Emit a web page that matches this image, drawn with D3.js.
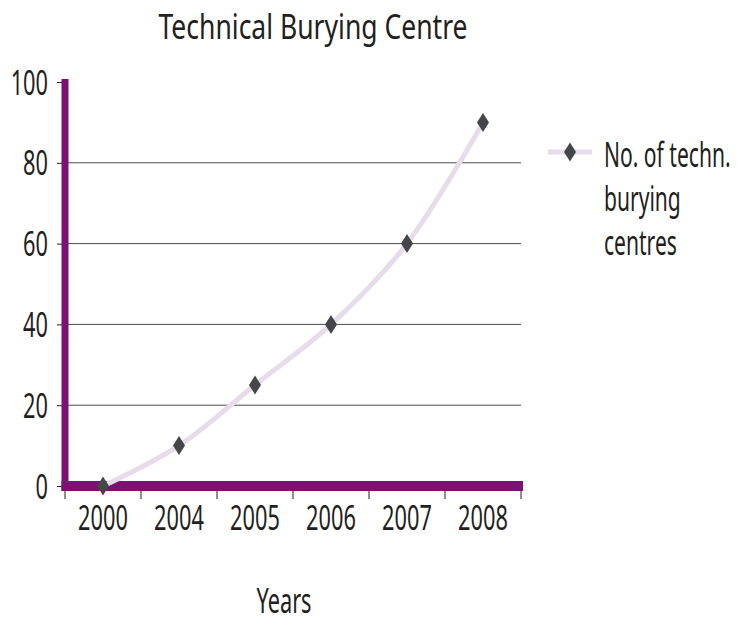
<!DOCTYPE html>
<html>
<head>
<meta charset="utf-8">
<script src="https://cdn.jsdelivr.net/npm/d3@7"></script>
<style>
  body { margin: 0; background: #fff; }
  text { font-family: "Noto Sans", sans-serif; fill: #231f20; }
</style>
</head>
<body>
<script>
// chart data
var years = ["2000", "2004", "2005", "2006", "2007", "2008"];
var centres = [0, 10, 25, 40, 60, 90];
var yTicks = [0, 20, 40, 60, 80, 100];
var seriesName = ["No. of techn.", "burying", "centres"];

var W = 737, H = 624;
var margin = {top: 82, right: 216, bottom: 138, left: 65},
    width = W - margin.left - margin.right,
    height = H - margin.top - margin.bottom;

// the reference font is very narrow, so squeeze text sideways
function squeeze(sx) {
  return function(sel) {
    sel.each(function() {
      var t = d3.select(this);
      var tx = +t.attr("x") || 0, ty = +t.attr("y") || 0;
      t.attr("x", 0).attr("y", 0)
       .attr("transform", "translate(" + tx + "," + ty + ") scale(" + sx + ",1)");
    });
  };
}

var svg = d3.select("body").append("svg")
    .attr("width", W)
    .attr("height", H);

var g = svg.append("g")
    .attr("transform", "translate(" + margin.left + "," + margin.top + ")");

// scales
var x = d3.scaleBand().domain(years).range([0, width]);
var y = d3.scaleLinear().domain([0, 100]).range([height, 0]);

// gridlines
g.selectAll(".grid")
    .data(yTicks.filter(function(d) { return d > 0 && d < 100; }))
  .enter().append("line")
    .attr("x1", 0).attr("x2", width)
    .attr("y1", function(d) { return y(d); })
    .attr("y2", function(d) { return y(d); })
    .attr("stroke", "#4d4d4f")
    .attr("stroke-width", 1);

// y axis ticks + labels
var yAxis = g.append("g").call(d3.axisLeft(y).tickValues(yTicks).tickSize(7).tickPadding(9));
yAxis.select(".domain").remove();
yAxis.selectAll(".tick line").attr("stroke", "#231f20").attr("transform", "translate(-1,0)");
yAxis.selectAll("text")
    .style("font-size", "34px")
    .attr("x", -17)
    .attr("y", 12)
    .attr("dy", null)
    .call(squeeze(0.64));

// x axis ticks at category boundaries
var bounds = years.map(function(d) { return x(d); }).concat([width]);
g.selectAll(".xtick")
    .data(bounds)
  .enter().append("line")
    .attr("x1", function(d) { return d; }).attr("x2", function(d) { return d; })
    .attr("y1", height + 4).attr("y2", height + 13)
    .attr("stroke", "#231f20")
    .attr("stroke-width", 1);

g.selectAll(".xlab")
    .data(years)
  .enter().append("text")
    .attr("x", function(d) { return x(d) + x.bandwidth() / 2; })
    .attr("y", height + 44)
    .attr("text-anchor", "middle")
    .style("font-size", "34px")
    .text(function(d) { return d; })
    .call(squeeze(0.64));

// purple axes
g.append("line")
    .attr("x1", 0).attr("x2", 0)
    .attr("y1", -3).attr("y2", height + 5)
    .attr("stroke", "#7a1173").attr("stroke-width", 7);
g.append("line")
    .attr("x1", -3.5).attr("x2", width + 2)
    .attr("y1", height).attr("y2", height)
    .attr("stroke", "#7a1173").attr("stroke-width", 10);

// line
var line = d3.line()
    .x(function(d, i) { return x(years[i]) + x.bandwidth() / 2; })
    .y(function(d) { return y(d); })
    .curve(d3.curveCatmullRom.alpha(0.5));

g.append("path")
    .datum(centres)
    .attr("d", line)
    .attr("fill", "none")
    .attr("stroke", "#e6dcea")
    .attr("stroke-width", 5);

var diamond = "M0,-9.5L6,0L0,9.5L-6,0Z";

g.selectAll(".pt")
    .data(centres)
  .enter().append("path")
    .attr("d", diamond)
    .attr("transform", function(d, i) {
      return "translate(" + (x(years[i]) + x.bandwidth() / 2) + "," + y(d) + ")";
    })
    .attr("fill", "#454649");

// title
svg.append("text")
    .attr("x", 313).attr("y", 39)
    .attr("text-anchor", "middle")
    .style("font-size", "34px")
    .text("Technical Burying Centre")
    .call(squeeze(0.78));

// x axis title
svg.append("text")
    .attr("x", 284).attr("y", 613)
    .attr("text-anchor", "middle")
    .style("font-size", "34px")
    .text("Years")
    .call(squeeze(0.64));

// legend
var lg = svg.append("g").attr("transform", "translate(548,152)");
lg.append("line")
    .attr("x1", 0).attr("x2", 44).attr("y1", 0).attr("y2", 0)
    .attr("stroke", "#e6dcea").attr("stroke-width", 5);
lg.append("path").attr("d", diamond).attr("transform", "translate(22,0)").attr("fill", "#454649");
lg.selectAll(".ltxt")
    .data(seriesName)
  .enter().append("text")
    .attr("x", 56)
    .attr("y", function(d, i) { return 15 + i * 44; })
    .style("font-size", "34px")
    .text(function(d) { return d; })
    .call(squeeze(0.62));
</script>
</body>
</html>
